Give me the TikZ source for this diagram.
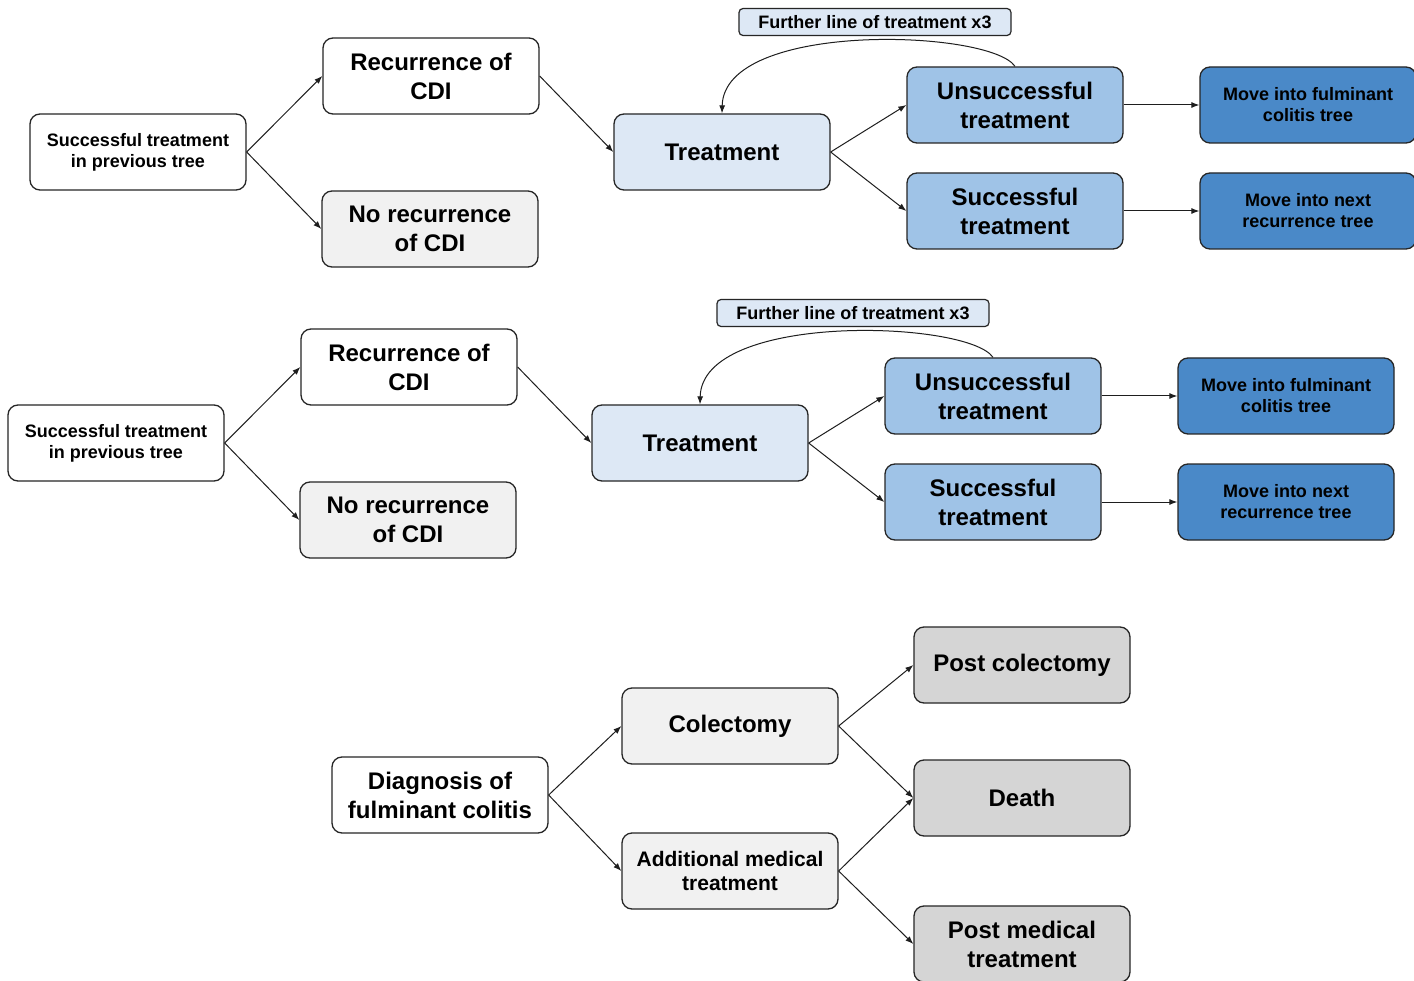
\documentclass[tikz,border=0pt]{standalone}
\usepackage{fontspec}
\setmainfont{Liberation Sans}
\usetikzlibrary{arrows.meta}

\definecolor{edgegray}{HTML}{262626}
\definecolor{linkgray}{HTML}{1E1E1E}
\definecolor{paleblue}{HTML}{DDE8F5}
\definecolor{midblue}{HTML}{9FC3E7}
\definecolor{deepblue}{HTML}{4A89C8}
\definecolor{palegray}{HTML}{F1F1F1}
\definecolor{midgray}{HTML}{D5D5D5}

\tikzset{
  box/.style={draw=edgegray, line width=1.3pt, rounded corners=10pt,
    minimum width=216pt, minimum height=76pt, align=center, inner sep=2pt,
    font=\bfseries\fontsize{24}{29}\selectfont},
  smalltxt/.style={font=\bfseries\fontsize{18}{21}\selectfont},
  midtxt/.style={font=\bfseries\fontsize{21}{24}\selectfont},
  tag/.style={draw=edgegray, line width=1.2pt, rounded corners=4pt, fill=paleblue,
    minimum width=272pt, minimum height=27pt, inner sep=1pt,
    font=\bfseries\fontsize{18}{21}\selectfont},
  link/.style={draw=linkgray, line width=1pt, -{Latex[length=8pt,width=6pt]}},
}

% One recurrence tree: previous success -> recurrence -> treatment -> outcomes
\newcommand{\recrow}{%
  \node[box, smalltxt] (prev) at (138,152) {Successful treatment\\in previous tree};
  \node[box] (rec) at (431,76) {Recurrence of\\CDI};
  \node[box, fill=palegray] (norec) at (430,229) {No recurrence\\of CDI};
  \node[box, fill=paleblue] (treat) at (722,152) {Treatment};
  \node[box, fill=midblue] (uns) at (1015,105) {Unsuccessful\\treatment};
  \node[box, fill=midblue] (suc) at (1015,211) {Successful\\treatment};
  \node[box, smalltxt, fill=deepblue] (fulm) at (1308,105) {Move into fulminant\\colitis tree};
  \node[box, smalltxt, fill=deepblue] (nextrec) at (1308,211) {Move into next\\recurrence tree};
  \node[tag] (further) at (875,22) {Further line of treatment x3};
  \draw[link] (prev.east) -- (rec.west);
  \draw[link] (prev.east) -- (norec.west);
  \draw[link] (rec.east) -- (treat.west);
  \draw[link] (treat.east) -- (uns.west);
  \draw[link] (treat.east) -- (suc.west);
  \draw[link] (uns.east) -- (fulm.west);
  \draw[link] (suc.east) -- (nextrec.west);
  \draw[link] (uns.north) .. controls +(-25,-37) and +(2,-93) .. (treat.north);
}

\begin{document}
\begin{tikzpicture}[x=1pt, y=-1pt]
  \useasboundingbox[fill=white] (0,0) rectangle (1414,981);

  \begin{scope}[name prefix=ra-]
    \recrow
  \end{scope}
  \begin{scope}[shift={(-22,291)}, name prefix=rb-]
    \recrow
  \end{scope}

  % Fulminant colitis tree
  \node[box] (diag) at (440,795) {Diagnosis of\\fulminant colitis};
  \node[box, fill=palegray] (colect) at (730,726) {Colectomy};
  \node[box, midtxt, fill=palegray] (addmed) at (730,871) {Additional medical\\treatment};
  \node[box, fill=midgray] (postcol) at (1022,665) {Post colectomy};
  \node[box, fill=midgray] (death) at (1022,798) {Death};
  \node[box, fill=midgray] (postmed) at (1022,944) {Post medical\\treatment};

  \draw[link] (diag.east) -- (colect.west);
  \draw[link] (diag.east) -- (addmed.west);
  \draw[link] (colect.east) -- (postcol.west);
  \draw[link] (colect.east) -- (death.west);
  \draw[link] (addmed.east) -- (death.west);
  \draw[link] (addmed.east) -- (postmed.west);
\end{tikzpicture}
\end{document}
